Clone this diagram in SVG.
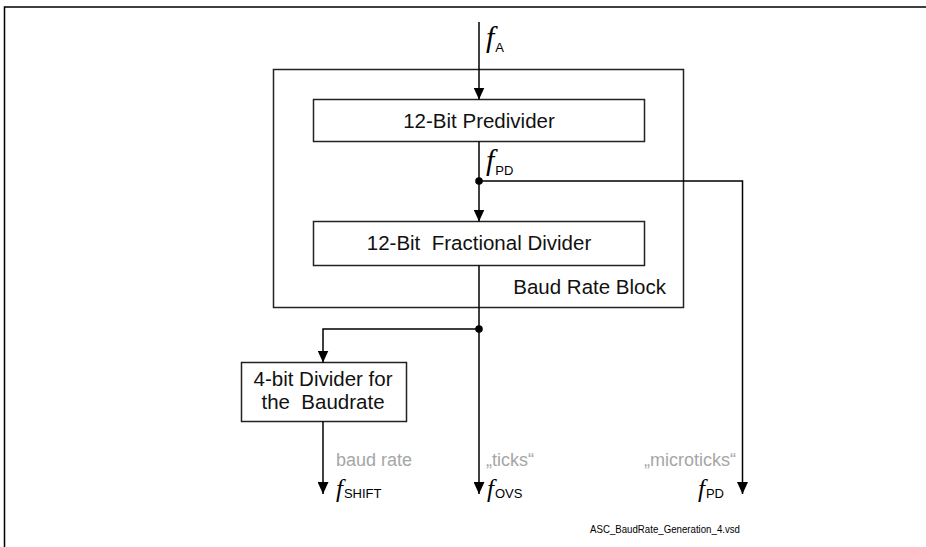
<svg xmlns="http://www.w3.org/2000/svg" width="926" height="547" viewBox="0 0 926 547">
<defs>
<style>
.box{fill:#fff;stroke:#222;stroke-width:1.5}
.ln{fill:none;stroke:#000;stroke-width:1.5}
.t{font-family:"Liberation Sans",Arial,sans-serif;font-size:20.5px;fill:#111}
.g{font-family:"Liberation Sans",Arial,sans-serif;font-size:18px;fill:#a6a6a6}
.f{font-family:"Liberation Serif","Times New Roman",serif;font-style:italic;fill:#000}
.s{font-family:"Liberation Sans",Arial,sans-serif;font-size:13px;fill:#000}
</style>
<marker id="ah" markerWidth="12" markerHeight="11" refX="12" refY="5.5" orient="auto" markerUnits="userSpaceOnUse" viewBox="0 0 12 11">
<path d="M0,0 L12,5.5 L0,11 Z" fill="#000"/>
</marker>
</defs>
<rect width="926" height="547" fill="#fff"/>
<g id="frame">
<path d="M4.5,547 V7 H926" fill="none" stroke="#000" stroke-width="1.5"/>
</g>
<g id="baud-rate-block">
<rect class="box" x="273.5" y="69.5" width="410" height="238"/>
<text class="t" x="666" y="294" text-anchor="end">Baud Rate Block</text>
</g>
<g id="predivider">
<rect class="box" x="313.5" y="99.5" width="331" height="42"/>
<text class="t" x="479" y="128" text-anchor="middle">12-Bit Predivider</text>
</g>
<g id="fractional-divider">
<rect class="box" x="313.5" y="221.5" width="331" height="44"/>
<text class="t" x="479" y="250" text-anchor="middle" xml:space="preserve">12-Bit  Fractional Divider</text>
</g>
<g id="baud-divider">
<rect class="box" x="241.5" y="362.5" width="165" height="59"/>
<text class="t" x="323" y="386" text-anchor="middle">4-bit Divider for</text>
<text class="t" x="323" y="409" text-anchor="middle" xml:space="preserve">the  Baudrate</text>
</g>
<g id="connectors">
<path class="ln" d="M479,22 V99.5" marker-end="url(#ah)"/>
<path class="ln" d="M479,141.5 V221.5" marker-end="url(#ah)"/>
<path class="ln" d="M479,181 H742.5 V494" marker-end="url(#ah)"/>
<path class="ln" d="M479,265.5 V494" marker-end="url(#ah)"/>
<path class="ln" d="M479,329 H323 V362.5" marker-end="url(#ah)"/>
<path class="ln" d="M323,421.5 V494" marker-end="url(#ah)"/>
<circle cx="479" cy="181" r="3.8" fill="#000"/>
<circle cx="479" cy="329" r="3.8" fill="#000"/>
</g>
<g id="labels">
<text x="486" y="47"><tspan class="f" font-size="30">f</tspan><tspan class="s" dy="5" dx="1">A</tspan></text>
<text x="486" y="170"><tspan class="f" font-size="30">f</tspan><tspan class="s" dy="5" dx="1">PD</tspan></text>
<text class="g" x="336" y="466">baud rate</text>
<text class="g" x="486" y="466">„ticks“</text>
<text class="g" x="736" y="466" text-anchor="end">„microticks“</text>
<text x="336" y="497"><tspan class="f" font-size="25">f</tspan><tspan class="s" dy="1" dx="1">SHIFT</tspan></text>
<text x="487" y="497"><tspan class="f" font-size="25">f</tspan><tspan class="s" dy="1" dx="1">OVS</tspan></text>
<text x="698" y="497"><tspan class="f" font-size="25">f</tspan><tspan class="s" dy="1" dx="1">PD</tspan></text>
<text x="590" y="533" font-family="Liberation Sans, Arial, sans-serif" font-size="11.5" fill="#000" textLength="150" lengthAdjust="spacingAndGlyphs">ASC_BaudRate_Generation_4.vsd</text>
</g>
</svg>
